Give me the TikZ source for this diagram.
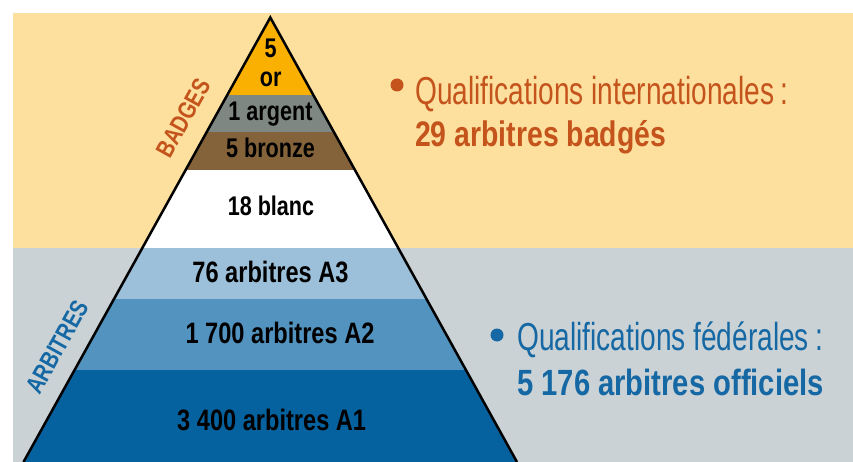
\documentclass[tikz,border=0pt]{standalone}
\usepackage{fontspec}
\setmainfont{Liberation Sans}
\newfontfamily\cond[FakeStretch=0.8]{Liberation Sans}
\newfontfamily\lite[FakeStretch=0.72]{Liberation Sans}
\definecolor{ybg}{HTML}{FDDF9E}
\definecolor{gbg}{HTML}{CAD2D5}
\definecolor{cor}{HTML}{F9B000}
\definecolor{carg}{HTML}{7E8782}
\definecolor{cbro}{HTML}{84633A}
\definecolor{cathree}{HTML}{9CC0D9}
\definecolor{catwo}{HTML}{5293BF}
\definecolor{caone}{HTML}{06629E}
\definecolor{torange}{HTML}{C4541C}
\definecolor{tblue}{HTML}{1568A3}
\begin{document}
\begin{tikzpicture}[x=1pt,y=-1pt,
  lbl/.style={inner sep=0pt, anchor=base, font=\cond\bfseries\fontsize{27}{30}\selectfont},
  lblbig/.style={lbl, font=\cond\bfseries\fontsize{29.5}{33}\selectfont},
  side/.style={inner sep=0pt, anchor=center, rotate=61, font=\cond\bfseries\fontsize{25}{28}\selectfont},
  infol/.style={inner sep=0pt, anchor=base west, font=\lite\fontsize{39}{44}\selectfont},
  infob/.style={inner sep=0pt, anchor=base west, font=\cond\bfseries\fontsize{35.5}{40}\selectfont},
  infobb/.style={infob, font=\cond\bfseries\fontsize{36.5}{40}\selectfont},
  dot/.style={circle, inner sep=0pt, minimum size=13pt}]
\useasboundingbox (0,0) rectangle (853,462);
% backgrounds
\fill[ybg] (13,13) rectangle (853,248);
\fill[gbg] (13,248) rectangle (853,462);
% pyramid
\coordinate (A) at (270.3,17.5);
\coordinate (BL) at (23.5,462);
\coordinate (BR) at (517,462);
\begin{scope}
  \clip (A) -- (BL) -- (BR) -- cycle;
  \fill[cor] (0,0) rectangle (853,95);
  \fill[carg] (0,95) rectangle (853,132);
  \fill[cbro] (0,132) rectangle (853,170);
  \fill[white] (0,170) rectangle (853,248);
  \fill[cathree] (0,248) rectangle (853,299);
  \fill[catwo] (0,299) rectangle (853,370);
  \fill[caone] (0,370) rectangle (853,463);
\end{scope}
\draw[line width=2.5pt, line join=miter] (BL) -- (A) -- (BR);
% layer labels
\node[lbl] (or5) at (270.7,58) {5};
\node[lbl] (oror) at (270.7,87) {or};
\node[lbl] (arg) at (270.5,121) {1 argent};
\node[lbl] (bro) at (270.5,158) {5 bronze};
\node[lbl] (bla) at (271,215) {18 blanc};
\node[lblbig] (athree) at (270.5,282) {76 arbitres A3};
\node[lblbig] (atwo) at (280,343) {1 700 arbitres A2};
\node[lblbig] (aone) at (271.7,430) {3 400 arbitres A1};
% side labels
\node[side, text=torange] (badges) at (183,118) {BADGES};
\node[side, text=tblue] (arbitres) at (57,347) {ARBITRES};
% info texts
\node[dot, fill=torange] (d1) at (397,85) {};
\node[infol, text=torange] (q1) at (415,105) {Qualifications internationales\,:};
\node[infob, text=torange] (n1) at (415,147) {29 arbitres badgés};
\node[dot, fill=tblue] (d2) at (497,335) {};
\node[infol, text=tblue] (q2) at (517,350) {Qualifications fédérales\,:};
\node[infobb, text=tblue] (n2) at (517,395) {5 176 arbitres officiels};
\end{tikzpicture}
\end{document}
